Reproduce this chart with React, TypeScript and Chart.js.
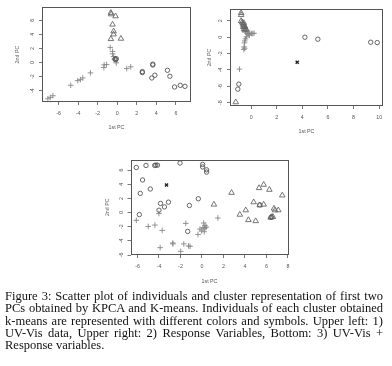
import React, { useEffect, useRef } from "react";
import { Chart, registerables } from "chart.js";

Chart.register(...registerables);

// ---------- Upper left: 1) UV-Vis data ----------
const ulTriangles = [[-0.65, 7.06], [-0.62, 6.85], [-0.17, 6.57], [-0.48, 5.39], [-0.37, 4.43], [-0.37, 4.0], [-0.65, 3.34], [0.38, 3.39]];
const ulPluses = [[-0.72, 2.14], [-0.48, 1.57], [-0.48, 1.24], [-0.37, 0.86], [-0.3, 0.5], [-0.1, -0.05], [-1.34, -0.33], [-1.09, -0.29], [-1.37, -0.71], [0.97, -0.86], [1.38, -0.61], [-2.74, -1.47], [-3.53, -2.19], [-3.77, -2.43], [-4.04, -2.57], [-4.76, -3.23], [-6.58, -4.71], [-6.85, -4.94], [-7.1, -5.14]];
const ulCircles = [[-0.24, 0.48], [-0.1, 0.55], [-0.15, 0.4], [2.57, -1.29], [2.57, -1.43], [3.64, -0.24], [3.64, -0.35], [3.85, -1.81], [3.54, -2.19], [5.14, -1.1], [5.39, -1.95], [5.87, -3.47], [6.45, -3.24], [6.93, -3.38]];

// ---------- Upper right: 2) Response variables ----------
const urTriangles = [[-0.78, 2.97], [-0.78, 2.72], [-0.78, 1.99], [-0.7, 1.83], [-0.57, 1.75], [-0.65, 1.67], [-0.6, 1.5], [-0.52, 1.38], [-0.62, 1.26], [-0.47, 1.26], [-0.44, 1.06], [-0.55, 1.02], [-0.39, 0.94], [-0.5, 0.85], [-1.2, -7.93]];
const urPluses = [[-0.44, 0.65], [-0.31, 0.45], [-0.24, 0.33], [-0.18, 0.45], [-0.11, 0.53], [0.02, 0.45], [0.13, 0.45], [0.23, 0.49], [-0.13, 0.24], [-0.37, 0.04], [-0.44, -0.2], [-0.5, -0.45], [-0.52, -0.69], [-0.55, -1.18], [-0.5, -1.34], [-0.57, -1.5], [-0.91, -3.9]];
const urCircles = [[-0.96, -5.73], [-1.04, -6.34], [4.2, 0.0], [5.21, -0.24], [9.34, -0.61], [9.85, -0.65]];
const urCentroid = [[3.6, -3.05]];

// ---------- Bottom: 3) UV-Vis + Response variables ----------
const bCircles = [[-6.11, 6.37], [-5.21, 6.66], [-4.4, 6.66], [-4.3, 6.7], [-4.14, 6.7], [-2.04, 7.0], [0.06, 6.8], [0.06, 6.45], [0.43, 6.04], [0.43, 5.72], [-5.53, 4.61], [-5.74, 2.71], [-4.81, 3.33], [-3.86, 1.29], [-3.12, 1.47], [-3.49, 0.8], [-4.0, 0.33], [-1.17, 1.0], [-0.34, 1.95], [-5.83, -0.29], [-1.33, -2.67], [5.37, 1.08], [6.42, -0.68]];
const bPluses = [[-6.11, -1.1], [-5.0, -1.96], [-4.38, -1.77], [-4.01, -0.14], [-3.7, -2.53], [-1.51, -1.53], [-2.71, -4.43], [-2.71, -4.3], [-1.69, -4.43], [-1.98, -5.48], [-3.89, -4.96], [-1.11, -4.77], [-1.25, -4.72], [-0.37, -3.1], [-0.19, -2.34], [-0.03, -2.59], [0.09, -2.14], [0.2, -2.2], [0.3, -2.15], [0.4, -2.05], [0.16, -1.48], [0.28, -1.81], [0.21, -2.71], [1.48, -0.77]];
const bTriangles = [[1.11, 1.14], [2.75, 2.8], [3.52, -0.29], [4.07, 0.33], [4.32, -1.05], [5.0, -1.2], [4.81, 1.47], [5.31, 3.47], [5.74, 3.94], [6.27, 3.23], [7.47, 2.43], [5.74, 1.14], [5.37, 1.04], [6.7, 0.57], [6.8, 0.33], [7.1, 0.33], [6.39, -0.71], [6.5, -0.62], [6.6, -0.6]];
const bCentroid = [[-3.3, 3.9]];

const xTitle = "1st PC";
const yTitle = "2nd PC";
const captionLines = [
  "Figure 3: Scatter plot of individuals and cluster representation of first two",
  "PCs obtained by KPCA and K-means. Individuals of each cluster obtained",
  "k-means are represented with different colors and symbols. Upper left: 1)",
  "UV-Vis data, Upper right: 2) Response Variables, Bottom: 3) UV-Vis +",
  "Response variables.",
];

const FONT = "'Liberation Sans', Arial, sans-serif";

const boxPlugin = {
  id: "rbox",
  afterDraw(chart: any) {
    const { ctx, chartArea } = chart;
    const l = Math.round(chartArea.left) + 0.5;
    const t = Math.round(chartArea.top) + 0.5;
    const r = Math.round(chartArea.right) - 0.5;
    const b = Math.round(chartArea.bottom) - 0.5;
    ctx.save();
    ctx.strokeStyle = "#555";
    ctx.lineWidth = 1;
    ctx.strokeRect(l, t, r - l, b - t);
    ctx.restore();
  },
};

const toPts = (a: number[][]) => a.map(([x, y]) => ({ x, y }));

function ds(data: number[][], style: string, color: string, radius: number, width = 0.9) {
  return {
    data: toPts(data),
    pointStyle: style,
    borderColor: color,
    backgroundColor: "rgba(0,0,0,0)",
    pointRadius: radius,
    pointBorderWidth: width,
    showLine: false,
    clip: false as any,
  };
}

interface Panel {
  w: number;
  h: number;
  datasets: any[];
  xMin: number;
  xMax: number;
  yMin: number;
  yMax: number;
  padTop: number;
  padRight: number;
  yWidth: number;
  xHeight: number;
  xTitlePad: number;
  yTitlePad: number;
}

function PanelChart({ p, style }: { p: Panel; style: React.CSSProperties }) {
  const ref = useRef<HTMLCanvasElement>(null);
  useEffect(() => {
    if (!ref.current) return;
    const tickFont = { family: FONT, size: 5.3 };
    const chart = new Chart(ref.current, {
      type: "scatter",
      data: { datasets: p.datasets },
      plugins: [boxPlugin],
      options: {
        animation: false,
        responsive: false,
        devicePixelRatio: 1,
        layout: { padding: { top: p.padTop, right: p.padRight, left: 0, bottom: 0 } },
        plugins: { legend: { display: false }, tooltip: { enabled: false } },
        scales: {
          x: {
            type: "linear",
            min: p.xMin,
            max: p.xMax,
            afterFit: (s: any) => {
              s.height = p.xHeight;
            },
            border: { display: false },
            grid: { drawOnChartArea: false, drawTicks: true, tickLength: 3, color: "#555", lineWidth: 0.8 },
            ticks: {
              stepSize: 2,
              includeBounds: false,
              autoSkip: false,
              maxRotation: 0,
              minRotation: 0,
              padding: 5,
              color: "#555",
              font: tickFont,
              callback: (v: any) => String(v),
            },
            title: {
              display: true,
              text: xTitle,
              color: "#555",
              font: tickFont,
              padding: { top: 0, bottom: p.xTitlePad },
            },
          },
          y: {
            type: "linear",
            min: p.yMin,
            max: p.yMax,
            afterFit: (s: any) => {
              s.width = p.yWidth;
            },
            border: { display: false },
            grid: { drawOnChartArea: false, drawTicks: true, tickLength: 3, color: "#555", lineWidth: 0.8 },
            ticks: {
              stepSize: 2,
              includeBounds: false,
              autoSkip: false,
              minRotation: 90,
              maxRotation: 90,
              crossAlign: "center",
              padding: 4,
              color: "#555",
              font: tickFont,
              callback: (v: any) => String(v),
            },
            title: {
              display: true,
              text: yTitle,
              color: "#555",
              font: tickFont,
              padding: { top: p.yTitlePad, bottom: 0 },
            },
          },
        },
      } as any,
    });
    return () => chart.destroy();
  }, []);
  return (
    <canvas
      ref={ref}
      width={p.w}
      height={p.h}
      style={{ position: "absolute", width: p.w, height: p.h, ...style }}
    />
  );
}

const CIRCLE = "#555";
const TRI = "#666";
const PLUS = "#888";
const CENT = "#222";

const panelA: Panel = {
  w: 196,
  h: 140,
  datasets: [
    ds(ulCircles, "circle", CIRCLE, 2.2),
    ds(ulTriangles, "triangle", TRI, 3.2),
    ds(ulPluses, "cross", PLUS, 2.8),
  ],
  xMin: -7.7,
  xMax: 7.55,
  yMin: -5.6,
  yMax: 7.85,
  padTop: 7,
  padRight: 5,
  yWidth: 42,
  xHeight: 38,
  xTitlePad: 9,
  yTitlePad: 14,
};

const panelB: Panel = {
  w: 196,
  h: 140,
  datasets: [
    ds(urCircles, "circle", CIRCLE, 2.2),
    ds(urTriangles, "triangle", TRI, 3.2),
    ds(urPluses, "cross", PLUS, 2.8),
    ds(urCentroid, "crossRot", CENT, 2.2, 1.4),
  ],
  xMin: -1.65,
  xMax: 10.3,
  yMin: -8.4,
  yMax: 3.45,
  padTop: 9,
  padRight: 9,
  yWidth: 34,
  xHeight: 34,
  xTitlePad: 5,
  yTitlePad: 10,
};

const panelC: Panel = {
  w: 210,
  h: 150,
  datasets: [
    ds(bCircles, "circle", CIRCLE, 2.2),
    ds(bTriangles, "triangle", TRI, 3.2),
    ds(bPluses, "cross", PLUS, 2.8),
    ds(bCentroid, "crossRot", CENT, 2.2, 1.4),
  ],
  xMin: -6.65,
  xMax: 8.05,
  yMin: -6.0,
  yMax: 7.5,
  padTop: 19.5,
  padRight: 17.5,
  yWidth: 34.5,
  xHeight: 35,
  xTitlePad: 5,
  yTitlePad: 8,
};

export default function App() {
  return (
    <div
      style={{
        position: "absolute",
        left: 0,
        top: 0,
        width: 392,
        height: 366,
        background: "#fff",
        overflow: "hidden",
      }}
    >
      <PanelChart p={panelA} style={{ left: 0, top: 0 }} />
      <PanelChart p={panelB} style={{ left: 196, top: 0 }} />
      <PanelChart p={panelC} style={{ left: 96, top: 140 }} />
      <div
        style={{
          position: "absolute",
          left: 5,
          top: 290,
          width: 378,
          fontFamily: "'Liberation Serif', 'Times New Roman', serif",
          fontSize: 12.5,
          lineHeight: "12.3px",
          color: "#111",
        }}
      >
        {captionLines.map((line, i) => (
          <div
            key={i}
            style={{
              textAlign: "justify",
              textAlignLast: i < captionLines.length - 1 ? "justify" : "left",
              whiteSpace: "normal",
            }}
          >
            {line}
          </div>
        ))}
      </div>
    </div>
  );
}
